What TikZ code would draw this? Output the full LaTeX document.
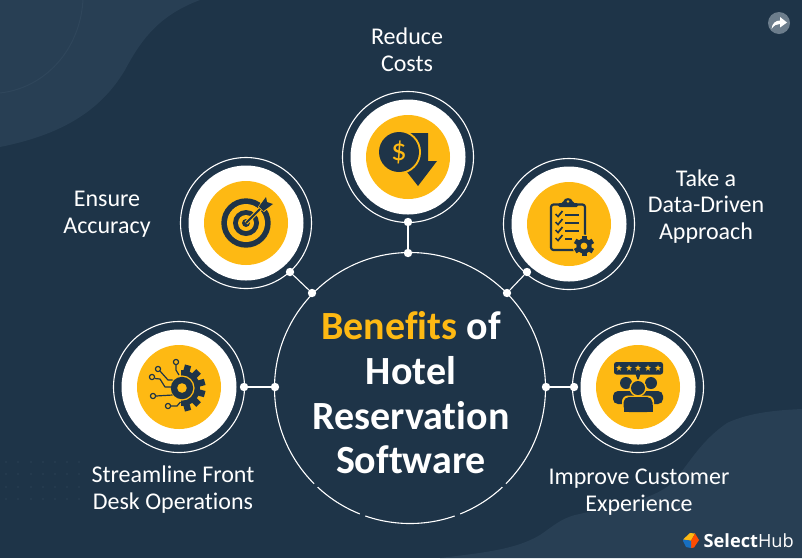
\documentclass[tikz,border=0pt]{standalone}
\usepackage{fontspec}
\setmainfont[Ligatures=NoCommon]{Carlito}
\newfontfamily\logofont{Open Sans}
\definecolor{bg}{HTML}{1E3448}
\definecolor{blob}{HTML}{283F54}
\definecolor{ringc}{HTML}{2F465B}
\definecolor{gold}{HTML}{FEB913}
\definecolor{sharec}{HTML}{6C7D8C}
\definecolor{dotc}{HTML}{2C4156}
\tikzset{
  x=1pt,y=-1pt,
  ringd/.style={circle,draw=white,line width=1.1pt,fill=none,minimum size=131pt,inner sep=0pt},
  discw/.style={fill=white},
  discy/.style={fill=gold},
  joint/.style={circle,fill=white,inner sep=0pt,minimum size=8.4pt},
  link/.style={draw=white,line width=1.1pt},
  lbl/.style={text=white,align=center,font=\fontsize{24}{26.6}\selectfont},
  ttl/.style={text=white,align=center,font=\fontsize{40}{44.6}\selectfont\bfseries},
  dkl/.style={draw=bg,line width=2.2pt,line cap=round,line join=round,fill=none},
  thinl/.style={draw=bg,line width=1.2pt,line join=round,fill=none},
  gapl/.style={draw=bg,line width=3pt}
}
\begin{document}
\begin{tikzpicture}
\useasboundingbox (0,0) rectangle (802,558);
\fill[bg] (0,0) rectangle (802,558);
% background blobs
\fill[blob] (0,147) .. controls (60,135) and (100,112) .. (125,70) .. controls (142,38) and (160,15) .. (200,0) -- (0,0) -- cycle;
\fill[blob] (440,558) .. controls (480,553) and (515,550) .. (540,535) .. controls (552,527) and (560,519) .. (575,515) .. controls (610,507) and (645,502) .. (667,487) .. controls (685,473) and (695,445) .. (727,423) .. controls (750,412) and (780,410) .. (802,409) -- (802,558) -- cycle;
\draw[ringc,line width=1pt] (83,0) .. controls (80,50) and (45,88) .. (0,93);
% dot grid
\foreach \yy in {462,474,487,499}{\foreach \xx in {6,18,31,43,55,67,79}{\fill[dotc] (\xx,\yy) circle (0.8);}}
% big circle with its small breaks
\node[circle,draw=white,line width=1.1pt,minimum size=271pt,inner sep=0pt] (hub) at (410,388) {};
\foreach \aa/\bb in {19.3/21.7,43/45,-19.3/-21.7,-43/-45}{
  \draw[gapl] ({410+135.5*sin(\aa)},{388+135.5*cos(\aa)}) -- ({410+135.5*sin(\bb)},{388+135.5*cos(\bb)});
}
% satellites
\foreach \nm/\cx/\cy in {top/408/157,tl/246/223,tr/569/224,ml/179/387,mr/638/387}{
  \fill[discw] (\cx,\cy) circle (57.5);
  \fill[discy] (\cx,\cy) circle (42);
  \node[ringd] (\nm) at (\cx,\cy) {};
}
% connectors
\node[joint] (j1a) at (408,222) {};
\node[joint] (j1b) at (408,253) {};
\node[joint] (j2a) at (290,272) {};
\node[joint] (j2b) at (312,293) {};
\node[joint] (j3a) at (527,272) {};
\node[joint] (j3b) at (507,293) {};
\node[joint] (j4a) at (244,387) {};
\node[joint] (j4b) at (275,387) {};
\node[joint] (j5a) at (574,387) {};
\node[joint] (j5b) at (546,387) {};
\draw[link] (j1a) -- (j1b);
\draw[link] (j2a) -- (j2b);
\draw[link] (j3a) -- (j3b);
\draw[link] (j4a) -- (j4b);
\draw[link] (j5a) -- (j5b);
% --- icon: reduce costs
\fill[bg] (409,133) -- (428,133) -- (428,161) -- (437,161) -- (418,186) -- (407,172) -- cycle;
\fill[gold] (399,152) circle (22);
\fill[bg] (399,152) circle (20);
\node[text=gold,font=\fontsize{31}{31}\selectfont,inner sep=0pt] (dollar) at (399,152) {\$};
% --- icon: target
\fill[bg] (246,223) circle (24.7);
\fill[gold] (246,223) circle (19);
\fill[bg] (246,223) circle (13);
\fill[gold] (246,223) circle (8);
\fill[bg] (246,223) circle (4);
\draw[gold,line width=4pt] (246,223) -- (264,205);
\draw[bg,line width=2pt] (246,223) -- (264,205);
\fill[gold] (258,207) -- (265.5,195.5) -- (275,203) -- (264,212) -- cycle;
\fill[bg] (259,206.5) -- (266,197) -- (267,202) -- (273,204) -- (263.5,211) -- cycle;
% --- icon: clipboard
\draw[dkl,rounded corners=2.5pt] (578,250) -- (551,250) -- (551,204.5) -- (585,204.5) -- (585,236);
\fill[bg,rounded corners=1.5pt] (558,207) -- (558,203) -- (563,203) .. controls (564,197) and (572,197) .. (573,203) -- (578,203) -- (578,207) -- cycle;
\fill[gold] (568,201.5) circle (1.4);
\foreach \yy in {214,222,230,238}{
  \draw[bg,line width=1.7pt,line join=miter] (555.5,\yy) -- (558,\yy+2.5) -- (562.5,\yy-3);
}
\foreach \yy/\xe in {215/579,223/579,231/579,239/572}{
  \draw[bg,line width=1.7pt] (565,\yy) -- (\xe,\yy);
}
\fill[gold] (584,246) circle (11.5);
\foreach \aa in {0,60,...,300}{\fill[bg,rotate around={\aa:(584,246)}] (581.5,235.8) rectangle (586.5,242);}
\fill[bg] (584,246) circle (7.6);
\fill[gold] (584,246) circle (3.4);
% --- icon: gear and circuit
\begin{scope}
\clip (181,360) rectangle (212,416);
\foreach \aa in {15,45,...,165}{\fill[bg,rotate around={-\aa:(182,388)}] (178.8,364.5) rectangle (185.2,372);}
\fill[bg] (182,388) circle (18);
\end{scope}
\fill[gold] (182,388) circle (12.6);
\fill[bg] (182,388) circle (11.2);
\fill[gold] (182,388) circle (4.8);
\draw[thinl] (176,365) -- (176,370) -- (179,375);
\draw[thinl] (160,371) -- (168,380) -- (172.5,380);
\draw[thinl] (155,378.5) -- (160,379) -- (165,387) -- (171,387);
\draw[thinl] (156,396) -- (172.5,395);
\draw[thinl] (171,406) -- (177,406) -- (180.5,402);
\foreach \xx/\yy in {176/362,158/369,152/377,153/396,168/406}{
  \draw[thinl] (\xx,\yy) circle (2.6);
}
% --- icon: customers
\fill[bg,rounded corners=2.5pt] (614,362) rectangle (663,374.5);
\fill[bg] (635.5,374) -- (638,381) -- (640.5,374) -- cycle;
\foreach \xx in {619,629,638,648,658}{
  \fill[gold] plot[samples=11,domain=0:10] ({\xx+(mod(\x,2)==0?3.2:1.3)*sin(\x*36)},{368-(mod(\x,2)==0?3.2:1.3)*cos(\x*36)}) -- cycle;
}
\fill[bg] (626,383) circle (6);
\fill[bg] (651,383) circle (6);
\fill[bg,rounded corners=5pt] (613,404) -- (613,391) -- (663,391) -- (663,404) -- cycle;
\fill[gold] (638,388) circle (8.6);
\fill[bg] (638,388) circle (7);
\fill[gold,rounded corners=6pt] (622,413.5) -- (622,395.5) -- (654,395.5) -- (654,413.5) -- cycle;
\fill[bg,rounded corners=5.5pt] (623.5,412) -- (623.5,397) -- (652.5,397) -- (652.5,412) -- cycle;
\fill[bg] (623.5,405) rectangle (652.5,412);
% labels
\node[lbl] (t1) at (407,49.5) {Reduce\\Costs};
\node[lbl] (t2) at (107,214.5) {Ensure\\Accuracy};
\node[lbl] (t3) at (706,206.5) {Take a\\Data-Driven\\Approach};
\node[lbl] (t4) at (173,489.5) {Streamline Front\\Desk Operations};
\node[lbl] (t5) at (639,492) {Improve Customer\\Experience};
\node[ttl] (title) at (411,393) {\textcolor{gold}{Benefits} of\\Hotel\\Reservation\\Software};
% share
\fill[sharec] (779,23) circle (11);
\fill[white] (771.5,29) .. controls (772,23) and (776,20.5) .. (780,20.5) -- (780,17) -- (787,22.5) -- (780,27.5) -- (780,24) .. controls (777,24) and (774,25) .. (771.5,29) -- cycle;
% logo
\fill[gold] (683,539.5) -- (690,533) -- (695,533.5) -- (691,540.8) -- cycle;
\fill[orange!60!red] (695,533.5) -- (699,540) -- (694,547.5) -- (691,548) -- (691,540.8) -- cycle;
\fill[cyan!50!blue] (683,539.5) -- (691,540.8) -- (691,548) -- (686,547) -- (683,541) -- cycle;
\node[text=white,anchor=base west,inner sep=0pt,font=\logofont\fontsize{18.2}{20}\selectfont] (logo) at (703.5,547) {\textbf{Select}Hub};
\end{tikzpicture}
\end{document}
